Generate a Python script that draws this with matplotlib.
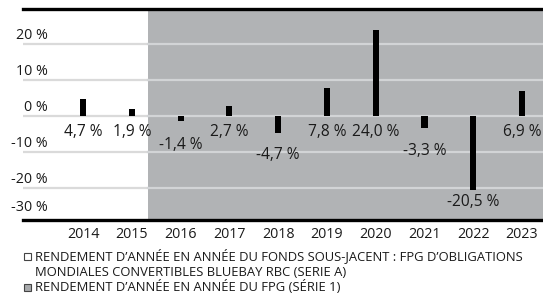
import matplotlib
matplotlib.use("Agg")
import matplotlib.pyplot as plt
import matplotlib.transforms as mtransforms
from matplotlib.patches import Rectangle

years = ["2014", "2015", "2016", "2017", "2018", "2019", "2020", "2021", "2022", "2023"]
returns = [4.7, 1.9, -1.4, 2.7, -4.7, 7.8, 24.0, -3.3, -20.5, 6.9]
value_labels = ["4,7 %", "1,9 %", "-1,4 %", "2,7 %", "-4,7 %", "7,8 %", "24,0 %", "-3,3 %", "-20,5 %", "6,9 %"]
grid_values = [20, 10, 0, -10, -20]
ytick_labels = ["20 %", "10 %", "0 %", "-10 %", "-20 %", "-30 %"]
legend_line1 = "RENDEMENT D\u2019ANNÉE EN ANNÉE DU FONDS SOUS-JACENT : FPG D\u2019OBLIGATIONS"
legend_line2 = "MONDIALES CONVERTIBLES BLUEBAY RBC (SERIE A)"
legend_line3 = "RENDEMENT D\u2019ANNÉE EN ANNÉE DU FPG (SÉRIE 1)"

FONT = "Open Sans"
plt.rcParams["font.family"] = [FONT, "DejaVu Sans"]
TXT = "#1a1a1a"

W, H = 543, 295
fig = plt.figure(figsize=(W / 100, H / 100), dpi=100)
ax = fig.add_axes([23 / W, 1 - 220 / H, 520 / W, 211 / H])
XMIN, XMAX = -1.23, 9.43
YMIN, YMAX = -28.9, 29.7
ax.set_xlim(XMIN, XMAX)
ax.set_ylim(YMIN, YMAX)
for s in ax.spines.values():
    s.set_visible(False)
ax.set_xticks([])
ax.set_yticks([])

grey_bg = "#b1b3b5"
SPLIT = 1.33
ax.axvspan(SPLIT, XMAX, color=grey_bg, zorder=0, lw=0)

# gridlines
for g in grid_values:
    ax.plot([XMIN, SPLIT], [g, g], color="#dadada", lw=1.6, zorder=1)
    ax.plot([SPLIT, XMAX], [g, g], color="#d2d4d6", lw=1.6, zorder=1)

# top & bottom lines
ax.axhline(YMAX, color="black", lw=2.4, zorder=3, clip_on=False)
ax.axhline(YMIN, color="black", lw=2.4, zorder=3, clip_on=False)

x = list(range(len(years)))
ax.bar(x, returns, width=0.125, color="black", zorder=2)

# value labels
for xi, v, lab in zip(x, returns, value_labels):
    if v >= 0:
        y = -4.4
    else:
        y = 0.83 * v - 6.9
    ax.text(xi, y, lab, ha="center", va="center", fontsize=11.2, color=TXT)

# y tick labels (above gridlines)
trans = mtransforms.blended_transform_factory(fig.transFigure, ax.transData)
ypos = [g + 2.4 for g in grid_values] + [-25.3]
for yv, lab in zip(ypos, ytick_labels):
    fig.text(47.5 / W, yv, lab, transform=trans, ha="right", va="center", fontsize=10.3, color=TXT)

# year labels
trans_x = mtransforms.blended_transform_factory(ax.transData, fig.transFigure)
for xi, yr in zip(x, years):
    fig.text(xi, 1 - 234 / H, yr, transform=trans_x, ha="center", va="center", fontsize=10.3, color=TXT)

# legend
fig.patches.append(Rectangle((24 / W, 1 - 259.5 / H), 7 / W, 7 / H, transform=fig.transFigure,
                             facecolor="white", edgecolor="#444444", lw=0.8))
fig.text(35 / W, 1 - 256 / H, legend_line1, ha="left", va="center", fontsize=9.4, color=TXT)
fig.text(35 / W, 1 - 272 / H, legend_line2, ha="left", va="center", fontsize=9.4, color=TXT)
fig.patches.append(Rectangle((24 / W, 1 - 290.5 / H), 7 / W, 7 / H, transform=fig.transFigure,
                             facecolor="#a8aaac", edgecolor="#444444", lw=0.8))
fig.text(35 / W, 1 - 287 / H, legend_line3, ha="left", va="center", fontsize=9.4, color=TXT)

fig.savefig("out.png", dpi=100)
